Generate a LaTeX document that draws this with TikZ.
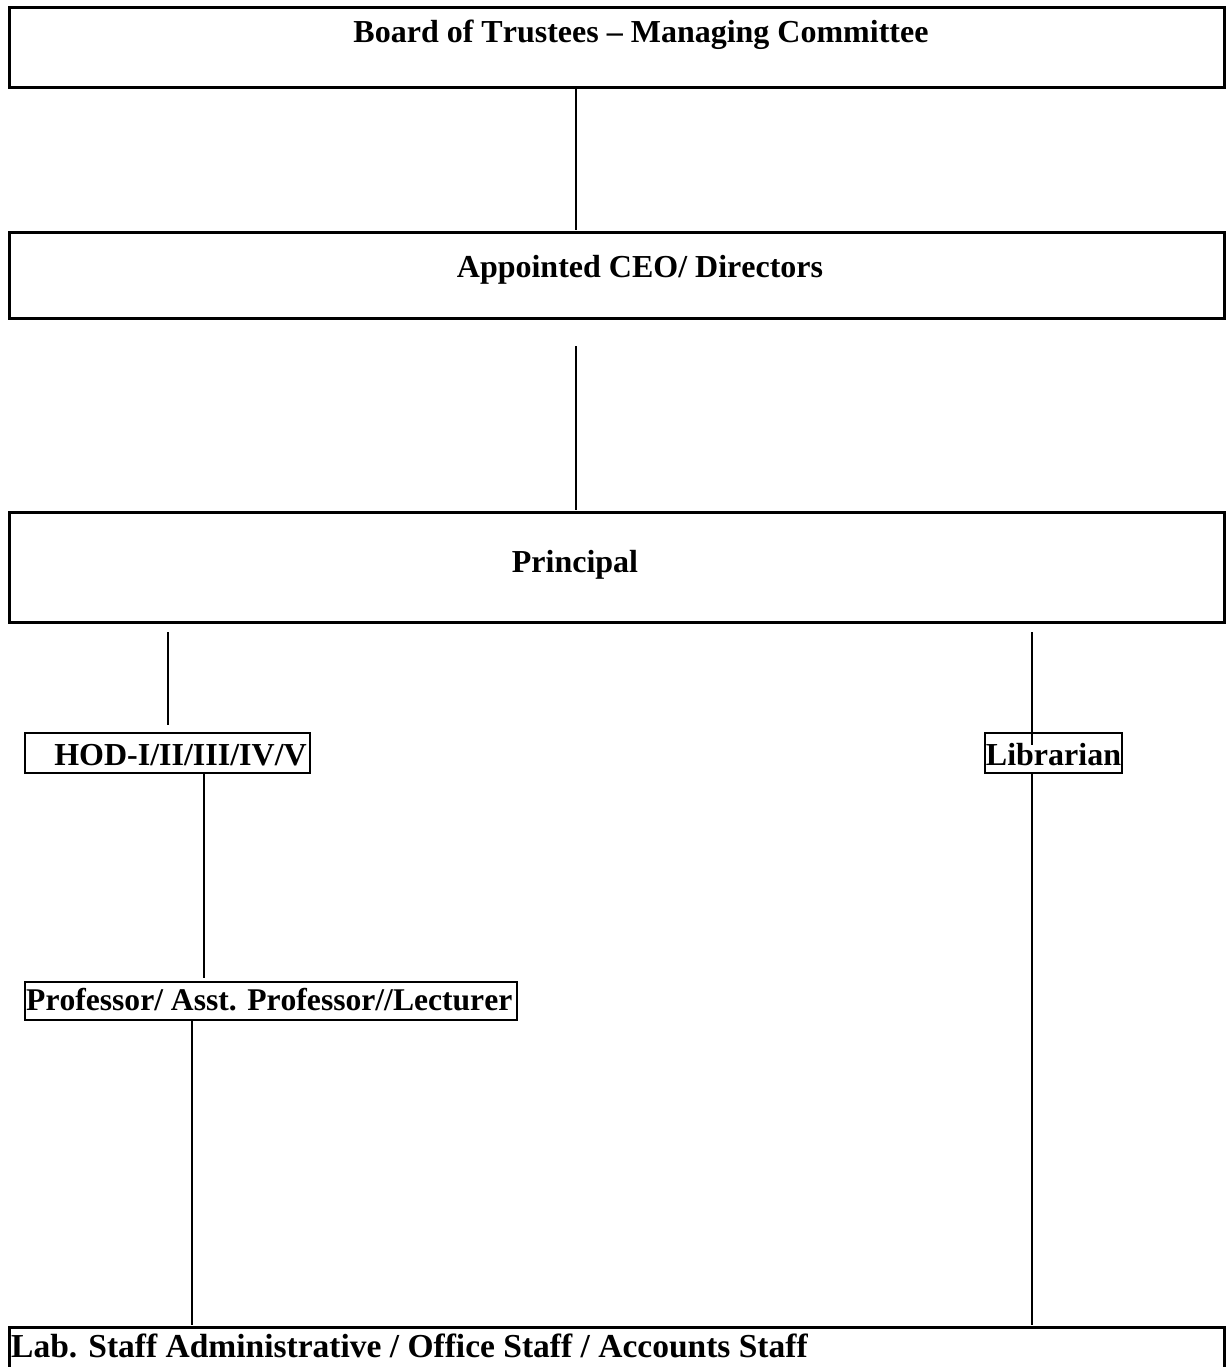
\documentclass[tikz,border=0pt]{standalone}
\usepackage{fontspec}
\setmainfont[Kerning=Off]{Liberation Serif}
\begin{document}
\begin{tikzpicture}[x=1pt,y=-1pt,
  bigbox/.style={draw,line width=3pt,inner sep=0pt,outer sep=0pt,anchor=north west},
  smallbox/.style={draw,line width=2.4pt,inner sep=0pt,outer sep=0pt,anchor=north west},
  lbl/.style={font=\fontsize{32}{38}\selectfont\bfseries,inner sep=0pt,anchor=base},
  conn/.style={line width=2pt}]
\useasboundingbox (0,0) rectangle (1227,1367);
% boxes
\node[bigbox,minimum width=1215pt,minimum height=80pt] (board) at (9,8) {};
\node[bigbox,minimum width=1215pt,minimum height=86pt] (ceo) at (9,232) {};
\node[bigbox,minimum width=1215pt,minimum height=110pt] (principal) at (9,512) {};
\node[smallbox,minimum width=285pt,minimum height=40pt] (hod) at (25,733) {};
\node[smallbox,minimum width=137pt,minimum height=40pt] (lib) at (985,733) {};
\node[smallbox,minimum width=492pt,minimum height=38pt] (prof) at (25,982) {};
\node[bigbox,minimum width=1215pt,minimum height=60pt] (lab) at (9,1327) {};
% texts
\node[lbl] (tboard) at (641,43) {Board of Trustees – Managing Committee};
\node[lbl] (tceo) at (640,277) {Appointed CEO/ Directors};
\node[lbl] (tprin) at (575,572) {Principal};
\node[lbl,anchor=base east] (thod) at (307,765) {HOD-I/II/III/IV/V};
\node[lbl] (tlib) at (1053.5,765) {Librarian};
\node[lbl,anchor=base west,font=\fontsize{31.6}{38}\selectfont\bfseries] (tprof) at (26,1010) {Professor/ Asst. Professor//Lecturer};
\node[lbl,anchor=base west,font=\fontsize{33.5}{38}\selectfont\bfseries] (tlab) at (11,1357) {Lab. Staff Administrative / Office Staff / Accounts Staff};
% connector end points
\coordinate (c1a) at (576,88);  \coordinate (c1b) at (576,230);
\coordinate (c2a) at (576,346); \coordinate (c2b) at (576,510);
\coordinate (c3a) at (168,632); \coordinate (c3b) at (168,725);
\coordinate (c4a) at (1032,632); \coordinate (c4b) at (1032,745);
\coordinate (c5a) at (204,773); \coordinate (c5b) at (204,978);
\coordinate (c6a) at (192,1020); \coordinate (c6b) at (192,1325);
\coordinate (c7a) at (1032,773); \coordinate (c7b) at (1032,1325);
\draw[conn] (c1a) -- (c1b);
\draw[conn] (c2a) -- (c2b);
\draw[conn] (c3a) -- (c3b);
\draw[conn] (c4a) -- (c4b);
\draw[conn] (c5a) -- (c5b);
\draw[conn] (c6a) -- (c6b);
\draw[conn] (c7a) -- (c7b);
\end{tikzpicture}
\end{document}
